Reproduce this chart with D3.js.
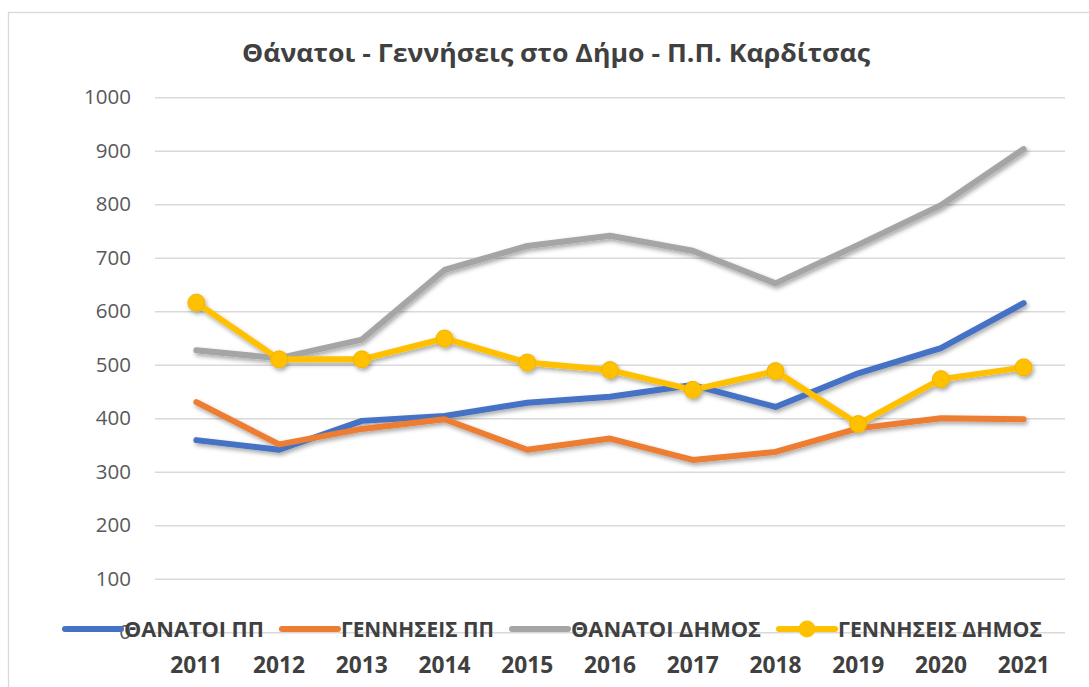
<!DOCTYPE html>
<html>
<head>
<meta charset="utf-8">
<script src="https://cdn.jsdelivr.net/npm/d3@7"></script>
<style>
  body { margin: 0; background: #fff; }
  svg { display: block; font-family: 'Open Sans', sans-serif; }
</style>
</head>
<body>
<svg id="chart" width="1089" height="687"></svg>
<script>
// Data
const years = ['2011', '2012', '2013', '2014', '2015', '2016', '2017', '2018', '2019', '2020', '2021'];
const thanatoiPP = [359, 341, 395, 404, 429, 440, 462, 421, 484, 531, 615];
const genniseisPP = [430, 351, 380, 398, 341, 362, 322, 337, 381, 400, 398];
const thanatoiDimos = [527, 512, 547, 677, 722, 741, 713, 652, 724, 798, 903];
const genniseisDimos = [616, 510, 510, 549, 504, 490, 453, 488, 389, 473, 495];
const yTicks = [0, 100, 200, 300, 400, 500, 600, 700, 800, 900, 1000];

const seriesNames = ['ΘΑΝΑΤΟΙ ΠΠ', 'ΓΕΝΝΗΣΕΙΣ ΠΠ', 'ΘΑΝΑΤΟΙ ΔΗΜΟΣ', 'ΓΕΝΝΗΣΕΙΣ ΔΗΜΟΣ'];
const seriesValues = [thanatoiPP, genniseisPP, thanatoiDimos, genniseisDimos];
const seriesColors = ['#4472C4', '#ED7D31', '#A5A5A5', '#FFC000'];
const seriesMarkers = [false, false, false, true];

const titleText = 'Θάνατοι - Γεννήσεις στο Δήμο - Π.Π. Καρδίτσας';

const series = seriesNames.map((name, i) => ({
    name,
    color: seriesColors[i],
    marker: seriesMarkers[i],
    values: seriesValues[i].map((v, j) => ({ year: years[j], value: v })),
}));

const plot = { left: 155, right: 1065, top: 97.2, bottom: 632.2 };

const svg = d3.select('#chart');

// drop shadow like the office chart
const defs = svg.append('defs');
defs.append('filter')
    .attr('id', 'shadow')
    .attr('x', '-10%').attr('y', '-10%')
    .attr('width', '120%').attr('height', '130%')
  .append('feDropShadow')
    .attr('dx', 1.5)
    .attr('dy', 2.5)
    .attr('stdDeviation', 2)
    .attr('flood-color', '#000')
    .attr('flood-opacity', 0.35);

// chart area border
svg.append('rect')
    .attr('x', 8.5)
    .attr('y', 12.5)
    .attr('width', 1100)
    .attr('height', 700)
    .attr('fill', '#fff')
    .attr('stroke', '#d9d9d9')
    .attr('stroke-width', 1.3);

const x = d3.scaleBand()
    .domain(years)
    .range([plot.left, plot.right]);

const y = d3.scaleLinear()
    .domain([0, 1000])
    .range([plot.bottom, plot.top]);

// gridlines + y labels
const yAxis = d3.axisLeft(y)
    .tickValues(yTicks)
    .tickSize(-(plot.right - plot.left))
    .tickPadding(24)
    .tickFormat(d3.format('d'));

const yG = svg.append('g')
    .attr('transform', `translate(${plot.left},0)`)
    .call(yAxis);
yG.select('.domain').remove();
yG.selectAll('.tick line')
    .attr('stroke', '#d9d9d9')
    .attr('stroke-width', 1.5);
yG.selectAll('.tick text')
    .attr('fill', '#595959')
    .attr('font-size', '20.5px')
    .attr('font-family', "'Open Sans', sans-serif");

// x labels
const xAxis = d3.axisBottom(x).tickSize(0).tickPadding(24);
const xG = svg.append('g')
    .attr('transform', `translate(0,${plot.bottom})`)
    .call(xAxis);
xG.select('.domain').remove();
xG.selectAll('.tick text')
    .attr('fill', '#404040')
    .attr('font-size', '23px')
    .attr('font-weight', 'bold')
    .attr('textLength', 52)
    .attr('lengthAdjust', 'spacingAndGlyphs')
    .attr('font-family', "'Open Sans', sans-serif");

// title
svg.append('text')
    .attr('x', 556)
    .attr('y', 62)
    .attr('text-anchor', 'middle')
    .attr('fill', '#404040')
    .attr('font-size', '25px')
    .attr('font-weight', 'bold')
    .attr('textLength', 628)
    .attr('lengthAdjust', 'spacingAndGlyphs')
    .text(titleText);

// lines
const line = d3.line()
    .x(d => x(d.year) + x.bandwidth() / 2)
    .y(d => y(d.value));

const seriesG = svg.append('g').attr('filter', 'url(#shadow)');

series.forEach(s => {
    const g = seriesG.append('g');
    g.append('path')
        .datum(s.values)
        .attr('d', line)
        .attr('fill', 'none')
        .attr('stroke', s.color)
        .attr('stroke-width', 6)
        .attr('stroke-linejoin', 'round')
        .attr('stroke-linecap', 'round');
    if (s.marker) {
        g.selectAll('circle')
            .data(s.values)
            .join('circle')
            .attr('cx', d => x(d.year) + x.bandwidth() / 2)
            .attr('cy', d => y(d.value))
            .attr('r', 8.5)
            .attr('fill', s.color)
            .attr('stroke', '#f0b400')
            .attr('stroke-width', 1);
    }
});

// legend (drawn over the bottom of the plot, like the reference)
const legendY = 629;
const legendWidths = [140, 153, 190, 204];
const legend = svg.append('g');
let lx = 65;
series.forEach((s, i) => {
    legend.append('line')
        .attr('x1', lx).attr('x2', lx + 56)
        .attr('y1', legendY).attr('y2', legendY)
        .attr('stroke', s.color)
        .attr('stroke-width', 6)
        .attr('stroke-linecap', 'round');
    if (s.marker) {
        legend.append('circle')
            .attr('cx', lx + 28)
            .attr('cy', legendY)
            .attr('r', 8.5)
            .attr('fill', s.color);
    }
    legend.append('text')
        .attr('x', lx + 59)
        .attr('y', legendY + 8)
        .attr('fill', '#404040')
        .attr('font-size', '22px')
        .attr('font-weight', 'bold')
        .attr('textLength', legendWidths[i])
        .attr('lengthAdjust', 'spacingAndGlyphs')
        .text(s.name);
    lx += 59 + legendWidths[i] + 18;
});
</script>
</body>
</html>
